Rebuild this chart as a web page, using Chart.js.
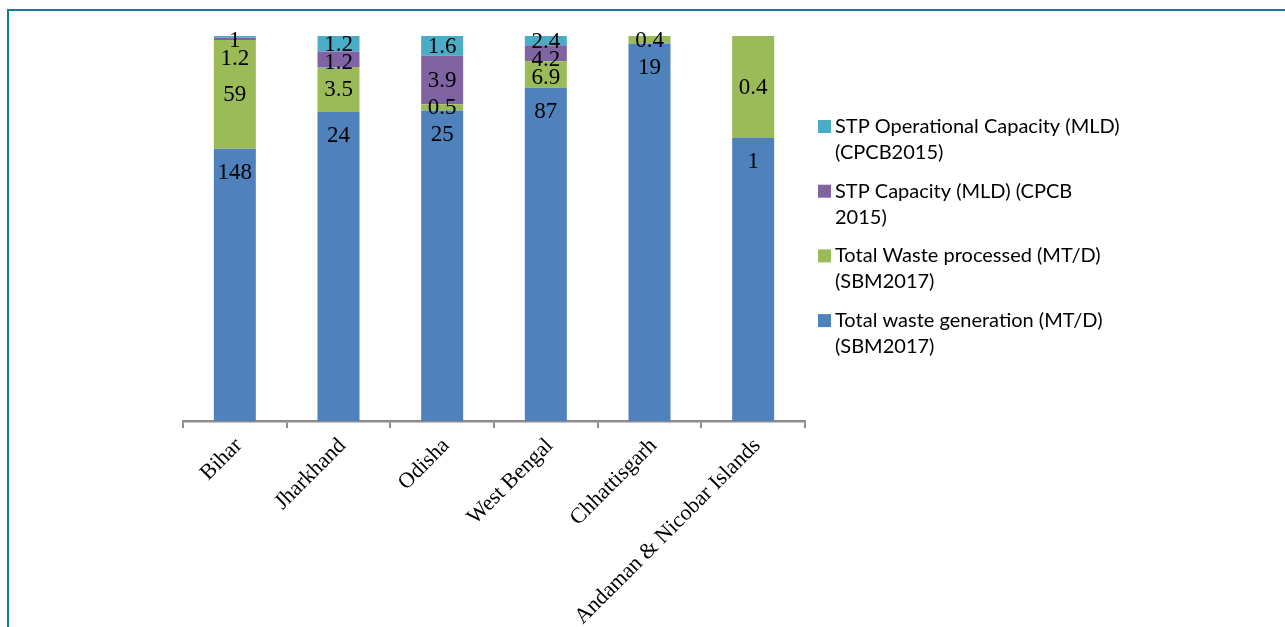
<!DOCTYPE html>
<html><head><meta charset="utf-8">
<script src="https://cdn.jsdelivr.net/npm/chart.js@4"></script>
<style>
html,body{margin:0;padding:0;background:#fff;}
#wrap{position:relative;width:1285px;height:627px;overflow:hidden;background:#fff;}
#frame{position:absolute;left:7px;top:9px;right:-10px;bottom:-10px;border-left:2px solid #137c9b;border-top:2px solid #137c9b;}
canvas{position:absolute;left:0;top:0;}
</style></head><body>
<div id="wrap"><div id="frame"></div><canvas id="c" width="1285" height="627"></canvas></div>
<script>
// ---- data ----
const categories = ["Bihar", "Jharkhand", "Odisha", "West Bengal", "Chhattisgarh", "Andaman & Nicobar Islands"];
const wasteGeneration = [148, 24, 25, 87, 19, 1];       // Total waste generation (MT/D) (SBM2017)
const wasteProcessed  = [59, 3.5, 0.5, 6.9, 0.4, 0.36]; // Total Waste processed (MT/D) (SBM2017)
const stpCapacity     = [1.2, 1.2, 3.9, 4.2, null, null]; // STP Capacity (MLD) (CPCB 2015)
const stpOperational  = [1, 1.2, 1.6, 2.4, null, null];   // STP Operational Capacity (MLD) (CPCB2015)
const seriesNames = [
  ["Total waste generation (MT/D)", "(SBM2017)"],
  ["Total Waste processed (MT/D)", "(SBM2017)"],
  ["STP Capacity (MLD) (CPCB", "2015)"],
  ["STP Operational Capacity (MLD)", "(CPCB2015)"]
];
const seriesColors = ["#4f81bd", "#9bbb59", "#8064a2", "#4bacc6"];
const seriesValues = [wasteGeneration, wasteProcessed, stpCapacity, stpOperational];

// 100% stacking
const totals = categories.map((_, i) => seriesValues.reduce((s, arr) => s + (arr[i] || 0), 0));
const fmt = v => String(Math.round(v * 10) / 10);

const datasets = seriesValues.map((vals, k) => ({
  label: seriesNames[k].join(" "),
  raw: vals,
  data: vals.map((v, i) => v == null ? null : v / totals[i] * 100),
  backgroundColor: seriesColors[k],
  borderWidth: 0,
  barPercentage: 0.405,
  categoryPercentage: 1
}));

const labelPlugin = {
  id: 'vlabels',
  afterDatasetsDraw(chart) {
    const ctx = chart.ctx;
    ctx.save();
    ctx.font = '23px "Liberation Serif"';
    ctx.fillStyle = '#000';
    ctx.textAlign = 'center';
    ctx.textBaseline = 'middle';
    categories.forEach((c, i) => {
      const items = [];
      chart.data.datasets.forEach((ds, di) => {
        const v = ds.raw[i];
        if (v == null) return;
        const el = chart.getDatasetMeta(di).data[i];
        const top = el.y, bottom = el.base;
        const y = di === 0 ? top + 23 : (top + bottom) / 2;
        items.push({ x: el.x, y, text: fmt(v) });
      });
      items.sort((a, b) => a.y - b.y);
      let prev = -Infinity;
      items.forEach(it => {
        const y = Math.max(it.y, chart.chartArea.top + 4, prev + 18);
        prev = y;
        ctx.fillText(it.text, it.x, y + 1);
      });
    });
    ctx.restore();
  }
};

const legendPlugin = {
  id: 'customLegend',
  afterDraw(chart) {
    const ctx = chart.ctx;
    ctx.save();
    ctx.font = '20px Lato';
    ctx.textBaseline = 'alphabetic';
    const n = chart.data.datasets.length;
    for (let j = 0; j < n; j++) {
      const k = n - 1 - j;
      const base = 133 + j * 64.7;
      ctx.fillStyle = seriesColors[k];
      ctx.fillRect(818, base - 13, 13, 13);
      ctx.fillStyle = '#000';
      seriesNames[k].forEach((line, li) => ctx.fillText(line, 835, base + li * 26));
    }
    ctx.restore();
  }
};

new Chart(document.getElementById('c'), {
  type: 'bar',
  data: { labels: categories, datasets },
  options: {
    responsive: false,
    animation: false,
    layout: { padding: { left: 183, right: 480, top: 36, bottom: 0 } },
    plugins: { legend: { display: false }, tooltip: { enabled: false } },
    scales: {
      x: {
        stacked: true,
        grid: { display: true, drawOnChartArea: false, drawTicks: true, tickLength: 7, color: '#8c8c8c', lineWidth: 2, offset: true },
        border: { display: true, color: '#8c8c8c', width: 2.5 },
        ticks: { autoSkip: false, minRotation: 45, maxRotation: 45, labelOffset: 4, font: { family: 'Liberation Serif', size: 22 }, color: '#000', padding: 5 },
        afterFit(s) { s.height = 627 - 421; }
      },
      y: { stacked: true, display: false, min: 0, max: 100 }
    }
  },
  plugins: [labelPlugin, legendPlugin]
});
</script>
</body></html>
